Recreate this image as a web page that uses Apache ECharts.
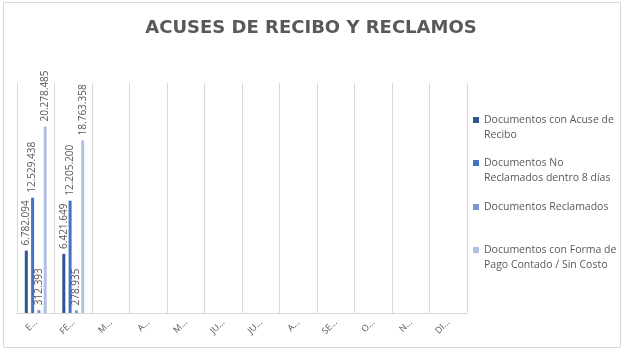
<!DOCTYPE html>
<html>
<head>
<meta charset="utf-8">
<script src="https://cdn.jsdelivr.net/npm/echarts@6/dist/echarts.min.js"></script>
<style>html,body{margin:0;padding:0;background:#fff}#c{width:625px;height:351px}</style>
</head>
<body>
<div id="c"></div>
<script>
const categories = ['E...', 'FE...', 'M...', 'A...', 'M...', 'JU...', 'JU...', 'A...', 'SE...', 'O...', 'N...', 'DI...'];
const seriesNames = [
  'Documentos con Acuse de Recibo',
  'Documentos No Reclamados dentro 8 días',
  'Documentos Reclamados',
  'Documentos con Forma de Pago Contado / Sin Costo'
];
const legendLabels = [
  '\nDocumentos con Acuse de\nRecibo',
  '\nDocumentos No\nReclamados dentro 8 días',
  'Documentos Reclamados',
  '\nDocumentos con Forma de\nPago Contado / Sin Costo'
];
const acuseRecibo = [6782094, 6421649, null, null, null, null, null, null, null, null, null, null];
const noReclamados = [12529438, 12205200, null, null, null, null, null, null, null, null, null, null];
const reclamados = [312393, 278935, null, null, null, null, null, null, null, null, null, null];
const pagoContado = [20278485, 18763358, null, null, null, null, null, null, null, null, null, null];
const seriesValues = [acuseRecibo, noReclamados, reclamados, pagoContado];
const colors = ['#2F5597', '#4472C4', '#7B94D2', '#B3BFE2'];

const fmt = v => String(v).replace(/\B(?=(\d{3})+(?!\d))/g, '.');
const chart = echarts.init(document.getElementById('c'));
const legendTops = [97.5, 140.5, 199.5, 227.5];
chart.setOption({
  animation: false,
  color: colors,
  title: {
    text: 'ACUSES DE RECIBO Y RECLAMOS',
    left: 306, top: 14, textAlign: 'center',
    textStyle: {fontFamily: 'DejaVu Sans', fontSize: 18, fontWeight: 'bold', color: '#595959'}
  },
  graphic: [{type: 'rect', shape: {x: 3.5, y: 2.5, width: 617, height: 345}, style: {fill: 'none', stroke: '#D9D9D9', lineWidth: 1}, silent: true}],
  legend: seriesNames.map((n, i) => ({
    data: [n], orient: 'vertical', left: 473, top: legendTops[i], padding: 0,
    itemWidth: 6, itemHeight: 6, itemGap: 0, icon: 'rect',
    formatter: () => legendLabels[i],
    textStyle: {fontFamily: 'Open Sans', fontSize: 10.5, color: '#595959', lineHeight: 15}
  })),
  grid: {left: 17, right: 158, top: 83, bottom: 38},
  xAxis: {
    type: 'category', data: categories,
    axisLine: {lineStyle: {color: '#D9D9D9'}},
    axisTick: {show: false},
    splitLine: {show: true, interval: 0, lineStyle: {color: '#D9D9D9'}},
    axisLabel: {interval: 0, rotate: 45, fontFamily: 'Open Sans', fontSize: 9, color: '#595959', margin: 8}
  },
  yAxis: {type: 'value', min: 0, max: 25000000, show: false, splitLine: {show: false}},
  series: seriesNames.map((n, i) => ({
    name: n, type: 'bar', data: seriesValues[i],
    barWidth: 3, barGap: '110%',
    label: {show: true, position: 'top', rotate: 90, align: 'left', verticalAlign: 'middle', distance: 5,
      fontFamily: 'Open Sans', fontSize: 10, color: '#595959', formatter: p => fmt(p.value)}
  }))
});
</script>
</body>
</html>
